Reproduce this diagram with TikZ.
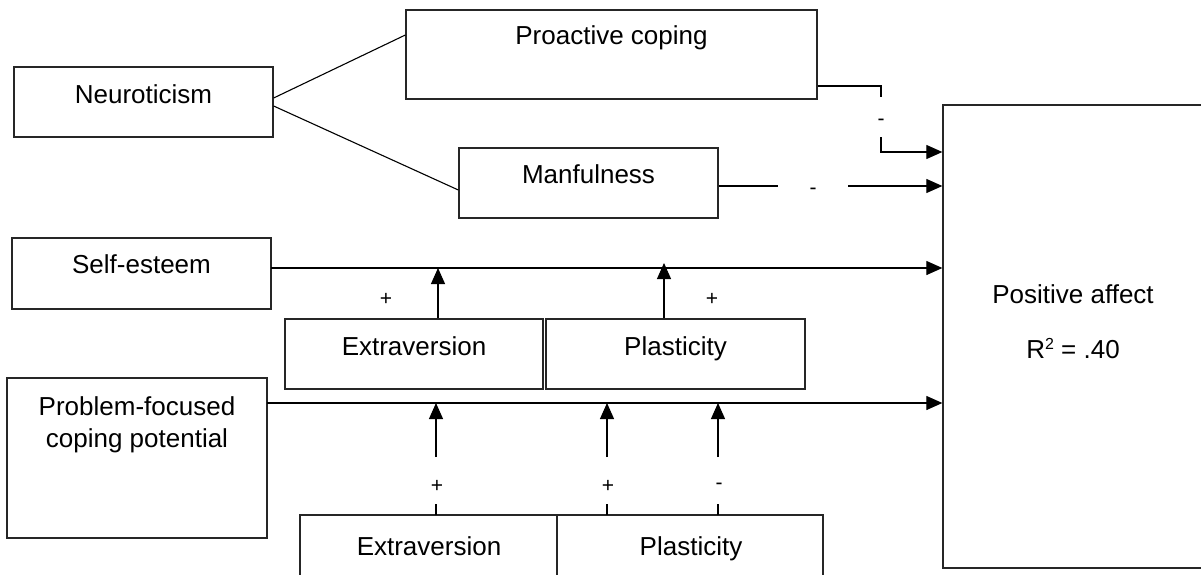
\documentclass[tikz,border=0pt]{standalone}
\usepackage{fontspec}
\setmainfont{Liberation Sans}
\usetikzlibrary{arrows.meta,calc}

\tikzset{
  box/.style={draw=black!85, line width=1.3pt, rectangle, inner sep=0pt},
  txt/.style={inner sep=0pt, anchor=base, font=\fontsize{26}{32}\selectfont},
  sign/.style={inner sep=0pt, anchor=center, font=\fontsize{21}{24}\selectfont},
  link/.style={line width=1.1pt},
  arr/.style={line width=1.1pt, -{Triangle[length=16pt,width=14pt]}}
}

\begin{document}
\begin{tikzpicture}[x=1pt, y=-1pt]
\clip (0,0) rectangle (1201,575);
\fill[white] (0,0) rectangle (1201,575);

% ---- boxes ----
\node[box, minimum width=259pt, minimum height=70pt]  (neuro)  at (143.5,102)  {};
\node[box, minimum width=411pt, minimum height=89pt]  (proact) at (611.5,54.5) {};
\node[box, minimum width=259pt, minimum height=70pt]  (manf)   at (588.5,183)  {};
\node[box, minimum width=259pt, minimum height=71pt]  (self)   at (141.5,273.5){};
\node[box, minimum width=258pt, minimum height=70pt]  (extraU) at (414,354)    {};
\node[box, minimum width=259pt, minimum height=70pt]  (plastU) at (675.5,354)  {};
\node[box, minimum width=260pt, minimum height=160pt] (prob)   at (137,458)    {};
\node[box, minimum width=257pt, minimum height=90pt]  (extraL) at (428.5,560)  {};
\node[box, minimum width=266pt, minimum height=90pt]  (plastL) at (690,560)    {};
\node[box, minimum width=262pt, minimum height=463pt] (pa)     at (1074,336.5) {};

% ---- box texts ----
\node[txt] (neuroT)  at (143.5,104) {Neuroticism};
\node[txt] (proactT) at (611.5,45)  {Proactive coping};
\node[txt] (manfT)   at (588.5,183) {Manfulness};
\node[txt] (selfT)   at (141.5,273) {Self-esteem};
\node[txt] (extraUT) at (414,355)   {Extraversion};
\node[txt] (plastUT) at (675.5,355) {Plasticity};
\node[txt] (probT1)  at (137,415)   {Problem-focused};
\node[txt] (probT2)  at (137,447)   {coping potential};
\node[txt] (extraLT) at (429,555)   {Extraversion};
\node[txt] (plastLT) at (691,555)   {Plasticity};
\node[txt] (paT1)    at (1073,303)  {Positive affect};
\node[txt] (paT2)    at (1073,358)  {R{\fontsize{16}{18}\selectfont\raisebox{9pt}{2}} = .40};

% ---- Neuroticism to mediators ----
\draw[link] ($(neuro.east)+(0,-4)$) -- ($(proact.west)+(0,-19.5)$);
\draw[link] ($(neuro.east)+(0,4)$)  -- ($(manf.west)+(0,7)$);

% ---- Proactive coping -> Positive affect ----
\coordinate (pcA) at (881,97);
\coordinate (pcB) at (881,137);
\draw[link] ($(proact.east)+(0,31.5)$) -| (pcA);
\node[sign] (pcS) at (881,122) {-};
\draw[arr] (pcB) |- (pa.west |- 0,152);

% ---- Manfulness -> Positive affect ----
\coordinate (mfA) at (778,186);
\coordinate (mfB) at (848,186);
\draw[link] (manf.east |- mfA) -- (mfA);
\node[sign] (mfS) at (813,191) {-};
\draw[arr] (mfB) -- (pa.west |- mfB);

% ---- Self-esteem and problem-focused coping -> Positive affect ----
\coordinate (seL) at (271,268);
\coordinate (pfL) at (267,403);
\draw[arr] (seL) -- (pa.west |- seL);
\draw[arr] (pfL) -- (pa.west |- pfL);

% ---- moderators of the Self-esteem path ----
\draw[arr] (extraU.north -| 438,0) -- (438,268);
\draw[arr] (plastU.north -| 664,0) -- (664,263);
\node[sign] (sgU1) at (386,299) {+};
\node[sign] (sgU2) at (712,299) {+};

% ---- moderators of the problem-focused coping path ----
\foreach \x/\s/\n in {436/+/a, 607/+/b, 718/-/c}{
  \draw[link] (\x,515) -- (\x,504);
  \node[sign] (sgL\n) at (\x+1,486) {\s};
  \draw[arr] (\x,457) -- (\x,403);
}
\end{tikzpicture}
\end{document}
